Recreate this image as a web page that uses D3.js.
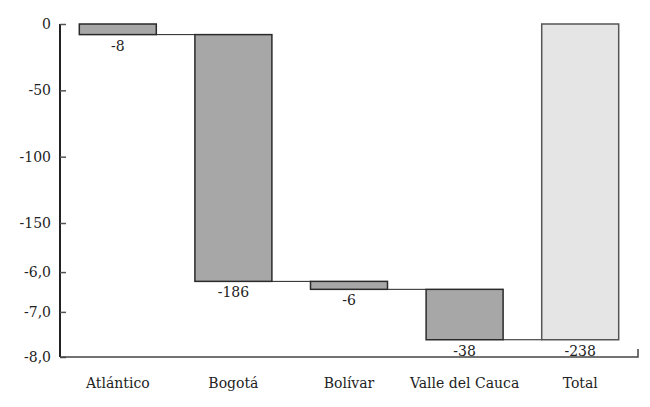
<!DOCTYPE html>
<html>
<head>
<meta charset="utf-8">
<script src="https://cdn.jsdelivr.net/npm/d3@7"></script>
<style>
  body { margin: 0; background: #fff; }
</style>
</head>
<body>
<svg id="viz"></svg>
<script>
const categories = ["Atlántico", "Bogotá", "Bolívar", "Valle del Cauca", "Total"];
const changes = [-8, -186, -6, -38];
const total = -238;
// the printed axis labels do not follow the scale below -150, keep them as shown
const tickValues = [0, -50, -100, -150, -187, -217, -251];
const tickLabels = ["0", "-50", "-100", "-150", "-6,0", "-7,0", "-8,0"];

const width = 650, height = 407;
const margin = { top: 24, right: 12, bottom: 50, left: 60 };
const FONT = "'DejaVu Serif', serif";

const svg = d3.select("#viz").attr("width", width).attr("height", height);

// build waterfall steps
let running = 0;
const steps = changes.map(function (v, i) {
    const start = running;
    running += v;
    return { name: categories[i], start: start, end: running, value: v, total: false };
});
steps.push({ name: categories[4], start: 0, end: total, value: total, total: true });

const x = d3.scaleBand()
    .domain(categories)
    .range([margin.left, width - margin.right])
    .paddingInner(0.334)
    .paddingOuter(0.167);

const y = d3.scaleLinear()
    .domain([0, -251])
    .range([margin.top, height - margin.bottom]);

// connectors
const conn = steps.slice(0, steps.length - 1);
svg.append("g")
    .selectAll("line")
    .data(conn)
    .enter()
    .append("line")
    .attr("x1", function (d) { return x(d.name) + x.bandwidth(); })
    .attr("x2", function (d, i) { return x(categories[i + 1]); })
    .attr("y1", function (d) { return y(d.end); })
    .attr("y2", function (d) { return y(d.end); })
    .attr("stroke", "#222")
    .attr("stroke-width", 1);

// bars
svg.append("g")
    .selectAll("rect")
    .data(steps)
    .enter()
    .append("rect")
    .attr("x", function (d) { return x(d.name); })
    .attr("y", function (d) { return y(Math.max(d.start, d.end)); })
    .attr("width", x.bandwidth())
    .attr("height", function (d) { return Math.abs(y(d.end) - y(d.start)); })
    .attr("fill", function (d) { return d.total ? "#e5e5e5" : "#a7a7a7"; })
    .attr("stroke", function (d) { return d.total ? "#555" : "#2a2a2a"; })
    .attr("stroke-width", 1.5);

// value labels
svg.append("g")
    .selectAll("text")
    .data(steps)
    .enter()
    .append("text")
    .attr("x", function (d) { return x(d.name) + x.bandwidth() / 2; })
    .attr("y", function (d) { return y(Math.min(d.start, d.end)) + 16; })
    .attr("text-anchor", "middle")
    .style("font-family", FONT)
    .style("font-size", "14px")
    .style("fill", "#222")
    .text(function (d) { return d.value; });

// y axis
const yAxis = d3.axisLeft(y)
    .tickValues(tickValues)
    .tickSize(-6)
    .tickPadding(9)
    .tickFormat(function (d, i) { return tickLabels[i]; });

const gy = svg.append("g")
    .attr("transform", "translate(" + margin.left + ",0)")
    .call(yAxis);
gy.select(".domain").attr("stroke", "#222").attr("stroke-width", 2).attr("d", "M0," + y(0) + "V" + y(-251));
gy.selectAll(".tick line").attr("stroke", "#555").attr("stroke-width", 1.5);
gy.selectAll(".tick text")
    .style("font-family", FONT)
    .style("font-size", "14px")
    .style("fill", "#222");

// x axis
const xAxis = d3.axisBottom(x).tickSize(0).tickPadding(21);
const gx = svg.append("g")
    .attr("transform", "translate(0," + y(-251) + ")")
    .call(xAxis);
gx.select(".domain").attr("stroke", "#444").attr("stroke-width", 1.5)
    .attr("d", "M" + margin.left + ",0H" + (width - margin.right) + "V-8");
gx.selectAll(".tick text")
    .style("font-family", FONT)
    .style("font-size", "14px")
    .style("fill", "#222");
</script>
</body>
</html>
